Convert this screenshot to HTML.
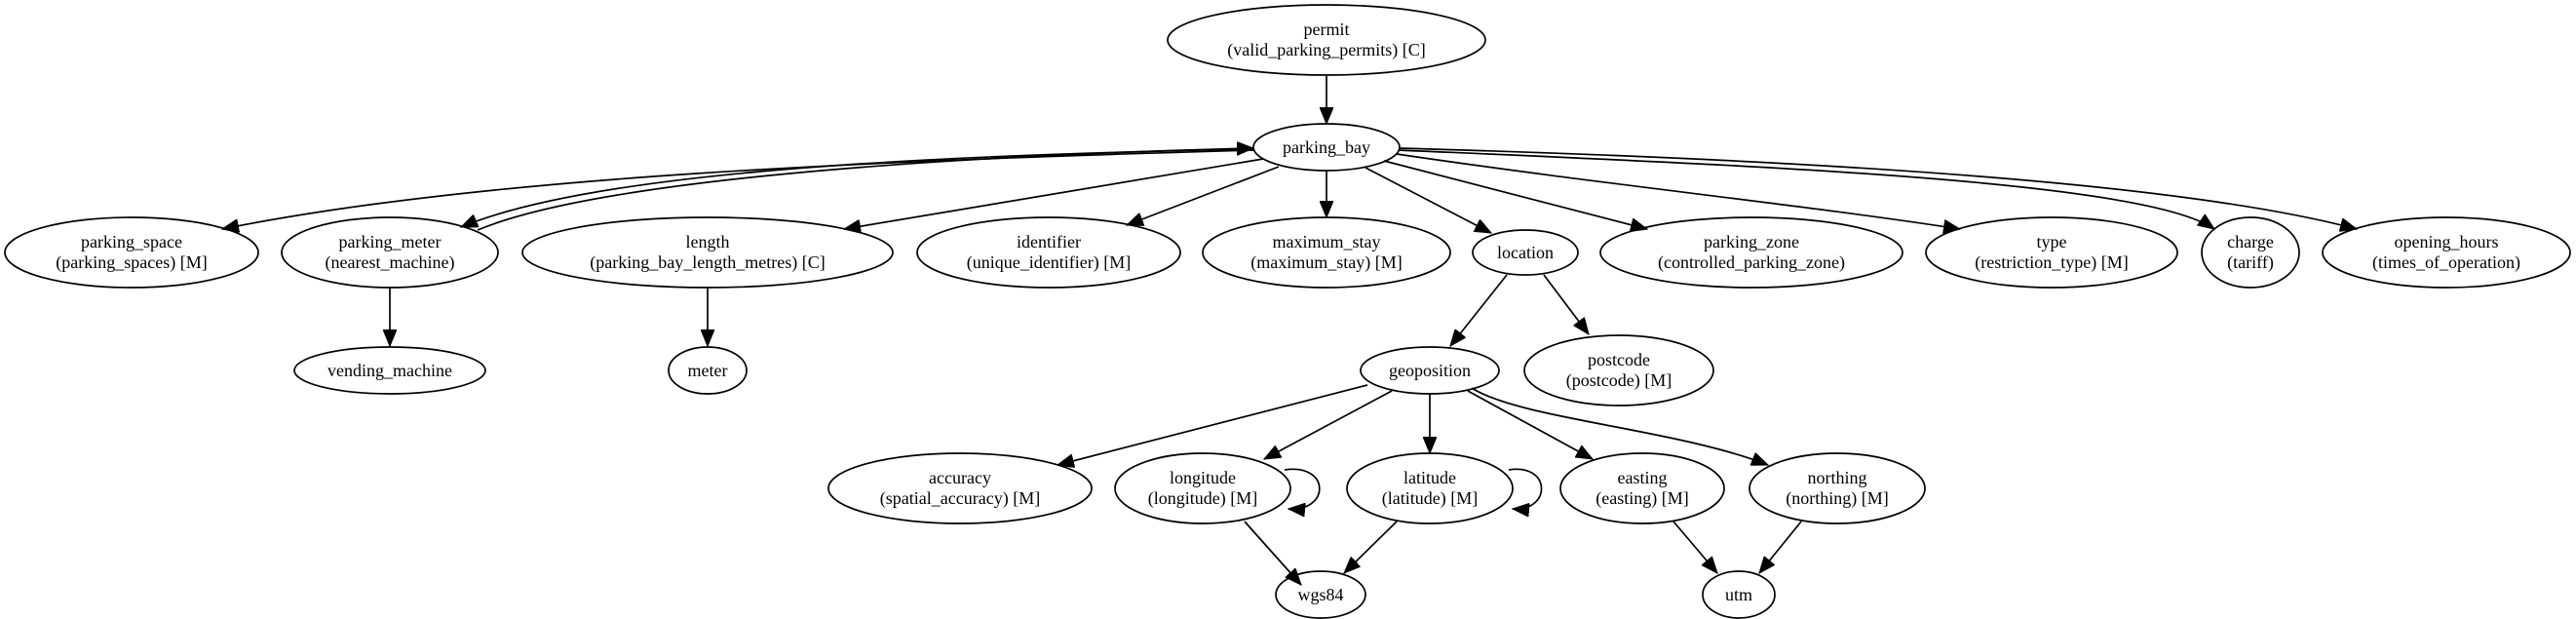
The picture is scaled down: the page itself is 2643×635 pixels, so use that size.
<!DOCTYPE html>
<html><head><meta charset="utf-8"><style>
html,body{margin:0;padding:0;background:#fff;}
svg{display:block;}
text{font-family:"Liberation Serif",serif;font-size:18px;fill:#000;text-anchor:middle;}
ellipse{fill:none;stroke:#000;stroke-width:1.7;}
path{fill:none;stroke:#000;stroke-width:1.7;}
</style></head><body>
<svg width="2643" height="635" viewBox="0 0 2643 635" xmlns="http://www.w3.org/2000/svg">
<defs>
<marker id="a" markerUnits="userSpaceOnUse" markerWidth="18" markerHeight="14" refX="17" refY="7" orient="auto">
<path d="M0,0 L17,7 L0,14 Z" style="fill:#000;stroke:#000;stroke-width:1"/>
</marker>
</defs>
<g marker-end="url(#a)">
<path d="M1361,78 L1361,127"/>
<path d="M1286,154 C900,165 500,180 228,235"/>
<path d="M1286,153 C900,160 600,180 473,233"/>
<path d="M490,236 C600,190 900,162 1286,152"/>
<path d="M1296,163 L866,235"/>
<path d="M1312,171 L1156,231"/>
<path d="M1361,175 L1361,223"/>
<path d="M1401,172 L1530,239"/>
<path d="M1420,165 L1690,235"/>
<path d="M1433,158 C1650,190 1850,210 2011,235"/>
<path d="M1435,154 C1800,170 2200,185 2272,235"/>
<path d="M1435,152 C1900,165 2250,190 2418,235"/>
<path d="M400,295 L400,355"/>
<path d="M726,295 L726,355"/>
<path d="M1546,282 L1488,355"/>
<path d="M1584,282 L1630,343"/>
<path d="M1403,395 L1085,477"/>
<path d="M1428,401 L1297,471"/>
<path d="M1467,404 L1467,465"/>
<path d="M1506,401 L1634,471"/>
<path d="M1510,398 C1560,430 1720,440 1814,477"/>
<path d="M1318,482 C1365,475 1365,525 1322,522"/>
<path d="M1548,482 C1592,475 1592,525 1552,522"/>
<path d="M1277,535 L1335,600"/>
<path d="M1433,535 L1379,588"/>
<path d="M1717,535 L1762,588"/>
<path d="M1848,535 L1805,588"/>
</g>
<ellipse cx="1361" cy="41" rx="163" ry="36"/>
<text x="1361" y="36">permit</text><text x="1361" y="57">(valid_parking_permits) [C]</text>
<ellipse cx="1361" cy="151" rx="75" ry="24"/>
<text x="1361" y="157">parking_bay</text>

<ellipse cx="135" cy="259" rx="130" ry="36"/>
<text x="135" y="254">parking_space</text><text x="135" y="275">(parking_spaces) [M]</text>
<ellipse cx="400" cy="259" rx="111" ry="36"/>
<text x="400" y="254">parking_meter</text><text x="400" y="275">(nearest_machine)</text>
<ellipse cx="726" cy="259" rx="190" ry="36"/>
<text x="726" y="254">length</text><text x="726" y="275">(parking_bay_length_metres) [C]</text>
<ellipse cx="1076" cy="259" rx="135" ry="36"/>
<text x="1076" y="254">identifier</text><text x="1076" y="275">(unique_identifier) [M]</text>
<ellipse cx="1361" cy="259" rx="127" ry="36"/>
<text x="1361" y="254">maximum_stay</text><text x="1361" y="275">(maximum_stay) [M]</text>
<ellipse cx="1565" cy="259" rx="54" ry="23"/>
<text x="1565" y="265">location</text>
<ellipse cx="1797" cy="259" rx="155" ry="36"/>
<text x="1797" y="254">parking_zone</text><text x="1797" y="275">(controlled_parking_zone)</text>
<ellipse cx="2105" cy="259" rx="129" ry="36"/>
<text x="2105" y="254">type</text><text x="2105" y="275">(restriction_type) [M]</text>
<ellipse cx="2309" cy="259" rx="50" ry="36"/>
<text x="2309" y="254">charge</text><text x="2309" y="275">(tariff)</text>
<ellipse cx="2510" cy="259" rx="127" ry="36"/>
<text x="2510" y="254">opening_hours</text><text x="2510" y="275">(times_of_operation)</text>

<ellipse cx="400" cy="380" rx="98" ry="24"/>
<text x="400" y="386">vending_machine</text>
<ellipse cx="726" cy="380" rx="40" ry="24"/>
<text x="726" y="386">meter</text>
<ellipse cx="1467" cy="380" rx="71" ry="24"/>
<text x="1467" y="386">geoposition</text>
<ellipse cx="1661" cy="380" rx="97" ry="36"/>
<text x="1661" y="375">postcode</text><text x="1661" y="396">(postcode) [M]</text>

<ellipse cx="985" cy="501" rx="135" ry="36"/>
<text x="985" y="496">accuracy</text><text x="985" y="517">(spatial_accuracy) [M]</text>
<ellipse cx="1234" cy="501" rx="90" ry="36"/>
<text x="1234" y="496">longitude</text><text x="1234" y="517">(longitude) [M]</text>
<ellipse cx="1467" cy="501" rx="85" ry="36"/>
<text x="1467" y="496">latitude</text><text x="1467" y="517">(latitude) [M]</text>
<ellipse cx="1685" cy="501" rx="84" ry="36"/>
<text x="1685" y="496">easting</text><text x="1685" y="517">(easting) [M]</text>
<ellipse cx="1885" cy="501" rx="90" ry="36"/>
<text x="1885" y="496">northing</text><text x="1885" y="517">(northing) [M]</text>

<ellipse cx="1355" cy="610" rx="46" ry="24"/>
<text x="1355" y="616">wgs84</text>
<ellipse cx="1784" cy="610" rx="37" ry="24"/>
<text x="1784" y="616">utm</text>
</svg>
</body></html>
